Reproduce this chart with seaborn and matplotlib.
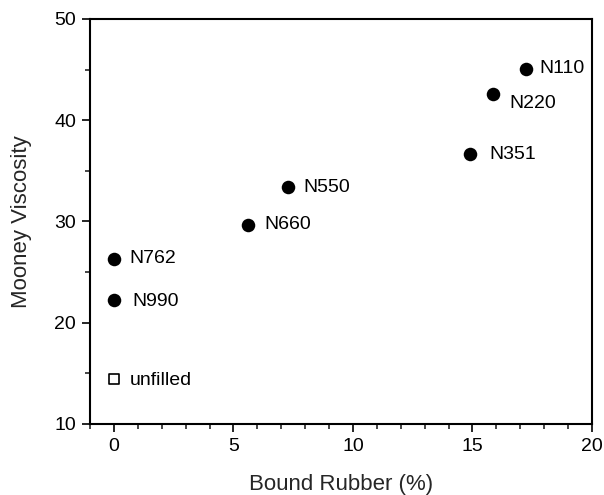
import matplotlib
matplotlib.use("Agg")
import matplotlib.pyplot as plt
import seaborn as sns
import pandas as pd
from matplotlib.ticker import MultipleLocator

grades = ["N110", "N220", "N351", "N550", "N660", "N762", "N990"]
bound_rubber = [17.24, 15.86, 14.90, 7.30, 5.62, 0.0, 0.0]
mooney = [45.1, 42.6, 36.7, 33.4, 29.7, 26.3, 22.2]

unfilled_label = ["unfilled"]
unfilled_x = [0.0]
unfilled_y = [14.4]

# label offsets in pixels (dx, dy)
label_offsets = {
    "N110": (13, 0), "N220": (16, -10), "N351": (19, -1), "N550": (15, 0),
    "N660": (16, 0), "N762": (15, 0), "N990": (18, -1), "unfilled": (16, -1),
}

sns.set_style("ticks")
plt.rcParams["font.family"] = ["Liberation Sans", "DejaVu Sans"]

fig = plt.figure(figsize=(6.04, 4.95), dpi=100)
ax = fig.add_axes([90 / 604, 71 / 495, 502 / 604, 405 / 495])

df = pd.DataFrame({"x": bound_rubber, "y": mooney, "label": grades})
du = pd.DataFrame({"x": unfilled_x, "y": unfilled_y, "label": unfilled_label})

sns.scatterplot(data=df, x="x", y="y", ax=ax, color="black", s=95,
                edgecolor="black", linewidth=0, marker="o", zorder=3)
sns.scatterplot(data=du, x="x", y="y", ax=ax, color="white", s=50,
                edgecolor="black", linewidth=1.2, marker="s", zorder=3)

for d in (df, du):
    for _, r in d.iterrows():
        dx, dy = label_offsets[r["label"]]
        ax.annotate(r["label"], (r["x"], r["y"]), xytext=(dx, dy),
                    textcoords="offset pixels", ha="left", va="center",
                    fontsize=14, color="black")

ax.set_xlim(-1, 20)
ax.set_ylim(10, 50)
ax.xaxis.set_major_locator(MultipleLocator(5))
ax.xaxis.set_minor_locator(MultipleLocator(1))
ax.yaxis.set_major_locator(MultipleLocator(10))
ax.yaxis.set_minor_locator(MultipleLocator(5))
ax.tick_params(which="major", direction="out", length=6, width=1.2,
               labelsize=14, pad=4, colors="black")
ax.tick_params(which="minor", direction="out", length=3.5, width=1.2)
for sp in ax.spines.values():
    sp.set_linewidth(1.5)
    sp.set_color("black")
    sp.set_visible(True)

ax.set_xlabel("Bound Rubber (%)", fontsize=16, labelpad=14)
ax.set_ylabel("Mooney Viscosity", fontsize=16, labelpad=16)

fig.savefig("out.png", dpi=100)
